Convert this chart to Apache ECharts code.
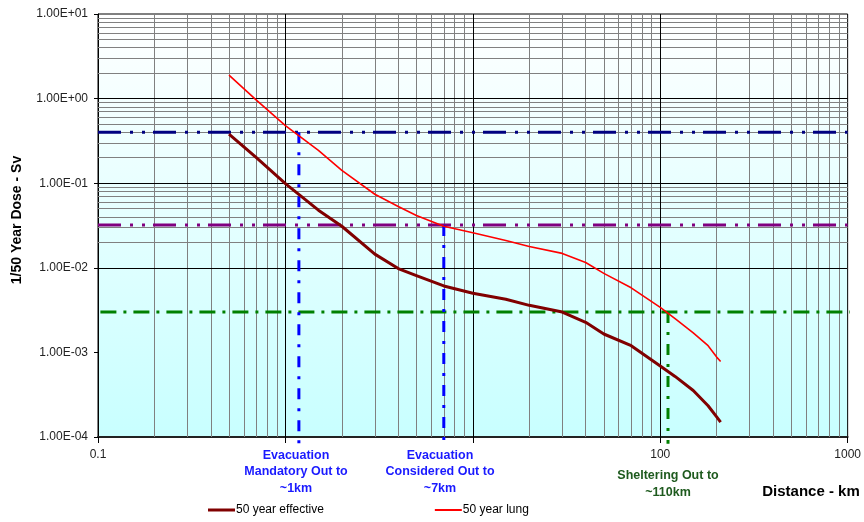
<!DOCTYPE html>
<html>
<head>
<meta charset="utf-8">
<script src="https://cdn.jsdelivr.net/npm/echarts@6/dist/echarts.min.js"></script>
<style>
  html, body { margin: 0; padding: 0; background: #fff; }
  #chart { width: 864px; height: 522px; }
</style>
</head>
<body>
<div id="chart"></div>
<script>
// Distance from release point (km)
const distanceKm = [0.5, 0.7, 1, 1.5, 2, 3, 4, 5, 7, 10, 15, 20, 30, 40, 50, 70, 100, 120, 150, 180, 200, 210];
// 50 year effective dose (Sv)
const effectiveSv = [0.38, 0.2, 0.099, 0.048, 0.031, 0.0145, 0.0098, 0.0081, 0.0061, 0.005, 0.00425, 0.0036, 0.003, 0.00227, 0.00165, 0.0012, 0.00069, 0.00052, 0.000355, 0.000234, 0.000173, 0.00015];
// 50 year lung dose (Sv)
const lungSv = [1.89, 0.96, 0.48, 0.244, 0.142, 0.074, 0.053, 0.0416, 0.031, 0.026, 0.021, 0.0179, 0.0148, 0.01155, 0.0086, 0.0058, 0.0034, 0.0025, 0.0017, 0.0012, 0.00088, 0.00078];

// Action thresholds (Sv) and the distances they reach (km)
const evacMandatoryDose = 0.4;
const evacConsideredDose = 0.032;
const shelterDose = 0.003;
const evacMandatoryKm = 1.18;
const evacConsideredKm = 7;
const shelterKm = 110;

// Axis ticks
const xTickValues = [0.1, 1, 10, 100, 1000];
const xTickLabels = ['0.1', '', '', '100', '1000'];
const yTickValues = [1e-4, 1e-3, 1e-2, 1e-1, 1, 10];
const yTickLabels = ['1.00E-04', '1.00E-03', '1.00E-02', '1.00E-01', '1.00E+00', '1.00E+01'];
const minorSteps = [2, 3, 4, 5, 6, 7, 8, 9];

const X_MIN = 0.1, X_MAX = 1000, Y_MIN = 1e-4, Y_MAX = 10;
const FONT = "'Liberation Sans', Arial, sans-serif";

function minorValues(majors) {
  const out = [];
  for (let i = 0; i < majors.length - 1; i++) {
    minorSteps.forEach(k => out.push(+(majors[i] * k).toPrecision(6)));
  }
  return out;
}
function labelFor(values, labels, v) {
  const e = Math.round(Math.log10(v));
  const i = values.findIndex(t => Math.round(Math.log10(t)) === e);
  return i >= 0 ? labels[i] : '';
}

const minorLines = minorValues(xTickValues).map(v => ({ xAxis: v }))
  .concat(minorValues(yTickValues).map(v => ({ yAxis: v })));
const majorLines = xTickValues.slice(1, -1).map(v => ({ xAxis: v }))
  .concat(yTickValues.slice(1, -1).map(v => ({ yAxis: v })));

// Log-scale grid drawn as mark lines underneath everything else
function gridSeries(name, lines, color, z) {
  return {
    name, type: 'line', data: [], silent: true, z, animation: false,
    markLine: {
      z, silent: true, symbol: 'none', animation: false,
      label: { show: false },
      lineStyle: { color, width: 1, type: 'solid' },
      emphasis: { disabled: true },
      data: lines
    }
  };
}

function refLine(name, pts, color, dash, z) {
  return {
    name, type: 'line', data: pts, symbol: 'none', silent: true, clip: false, z,
    animation: false,
    lineStyle: { color, width: 3, type: dash, cap: 'butt' }
  };
}

const chart = echarts.init(document.getElementById('chart'), null, { renderer: 'canvas' });

const dashDotDot = [23, 9, 3, 9, 3, 8];
const dashDot = [16, 7, 3, 7];
const vDashDot = [11, 9, 3, 9];
const belowAxis = 8.3e-5;

chart.setOption({
  backgroundColor: '#ffffff',
  animation: false,
  textStyle: { fontFamily: FONT },
  grid: {
    left: 98, top: 14, width: 751, height: 423,
    show: true,
    borderColor: '#000', borderWidth: 1,
    backgroundColor: new echarts.graphic.LinearGradient(0, 0, 0, 1, [
      { offset: 0, color: '#ffffff' },
      { offset: 1, color: '#c8ffff' }
    ])
  },
  xAxis: {
    type: 'log', logBase: 10, min: X_MIN, max: X_MAX,
    axisLine: { show: true, lineStyle: { color: '#222', width: 2 } },
    axisTick: { show: true, length: 6, lineStyle: { color: '#000' } },
    splitLine: { show: false },
    minorTick: { show: false },
    axisLabel: {
      margin: 12, color: '#222', fontSize: 12, fontFamily: FONT,
      formatter: v => labelFor(xTickValues, xTickLabels, v)
    }
  },
  yAxis: {
    type: 'log', logBase: 10, min: Y_MIN, max: Y_MAX,
    axisLine: { show: true, lineStyle: { color: '#000', width: 1 } },
    axisTick: { show: true, length: 4, lineStyle: { color: '#000' } },
    splitLine: { show: false },
    minorTick: { show: false },
    axisLabel: {
      margin: 10, color: '#222', fontSize: 12, fontFamily: FONT,
      formatter: v => labelFor(yTickValues, yTickLabels, v)
    }
  },
  legend: {
    data: [
      { name: '50 year effective', icon: 'path://M0,0L27,0L27,3L0,3Z' },
      { name: '50 year lung', icon: 'path://M0,0.5L27,0.5L27,2.5L0,2.5Z' }
    ],
    left: 208, top: 504, padding: 0,
    itemWidth: 27, itemHeight: 3, itemGap: 111,
    textStyle: { fontSize: 12, color: '#000', fontFamily: FONT, padding: [0, 0, 0, -4] },
    selectedMode: false
  },
  series: [
    gridSeries('minor grid', minorLines, '#808080', 1),
    gridSeries('major grid', majorLines, '#000000', 2),
    refLine('evac mandatory level', [[X_MIN, evacMandatoryDose], [X_MAX, evacMandatoryDose]], '#000080', dashDotDot, 3),
    refLine('evac considered level', [[X_MIN, evacConsideredDose], [X_MAX, evacConsideredDose]], '#800080', dashDotDot, 3),
    refLine('shelter level', [[X_MIN * 1.03, shelterDose], [1100, shelterDose]], '#008000', dashDot, 3),
    refLine('evac mandatory distance', [[evacMandatoryKm, evacMandatoryDose], [evacMandatoryKm, belowAxis]], '#0000ff', vDashDot, 3),
    refLine('evac considered distance', [[evacConsideredKm, evacConsideredDose], [evacConsideredKm, belowAxis]], '#0000ff', vDashDot, 3),
    refLine('shelter distance', [[shelterKm, shelterDose], [shelterKm, belowAxis]], '#008000', vDashDot, 3),
    {
      name: '50 year effective', type: 'line', symbol: 'none', z: 5,
      data: distanceKm.map((d, i) => [d, effectiveSv[i]]),
      lineStyle: { color: '#800000', width: 3, join: 'round' },
      itemStyle: { color: '#800000' }
    },
    {
      name: '50 year lung', type: 'line', symbol: 'none', z: 5,
      data: distanceKm.map((d, i) => [d, lungSv[i]]),
      lineStyle: { color: '#ff0000', width: 1.6, join: 'round' },
      itemStyle: { color: '#ff0000' }
    }
  ],
  graphic: [
    {
      type: 'text', x: 17, y: 220, rotation: Math.PI / 2,
      style: {
        text: '1/50 Year Dose - Sv', fill: '#000',
        font: "bold 14px " + FONT, textAlign: 'center', textVerticalAlign: 'middle'
      }
    },
    {
      type: 'text', x: 811, y: 492,
      style: {
        text: 'Distance - km', fill: '#000',
        font: "bold 15px " + FONT, textAlign: 'center', textVerticalAlign: 'middle'
      }
    },
    {
      type: 'text', x: 296, y: 472,
      style: {
        text: 'Evacuation\nMandatory Out to\n~1km', fill: '#1a1aff', lineHeight: 16.5,
        font: "bold 12.5px " + FONT, textAlign: 'center', textVerticalAlign: 'middle'
      }
    },
    {
      type: 'text', x: 440, y: 472,
      style: {
        text: 'Evacuation\nConsidered Out to\n~7km', fill: '#1a1aff', lineHeight: 16.5,
        font: "bold 12.5px " + FONT, textAlign: 'center', textVerticalAlign: 'middle'
      }
    },
    {
      type: 'text', x: 668, y: 484,
      style: {
        text: 'Sheltering Out to\n~110km', fill: '#1e5a1e', lineHeight: 17,
        font: "bold 12.5px " + FONT, textAlign: 'center', textVerticalAlign: 'middle'
      }
    }
  ]
});
</script>
</body>
</html>
